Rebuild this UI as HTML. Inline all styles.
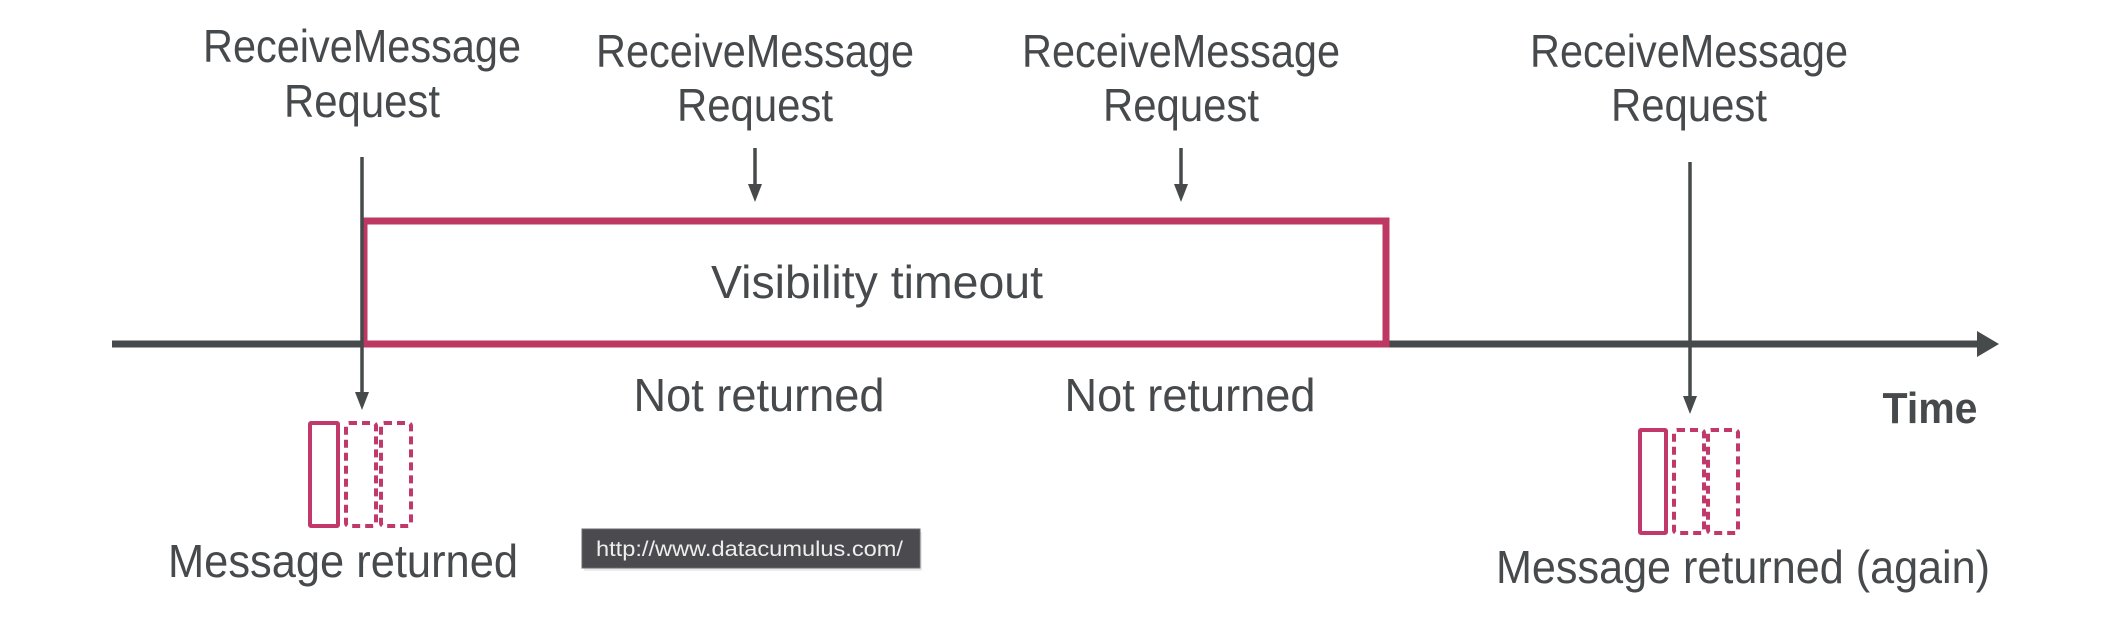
<!DOCTYPE html>
<html><head><meta charset="utf-8"><style>
html,body{margin:0;padding:0;background:#fff;}
svg{display:block;}
text{font-family:"Liberation Sans",sans-serif;fill:#474a4c;}
</style></head><body>
<svg width="2124" height="634" viewBox="0 0 2124 634" xmlns="http://www.w3.org/2000/svg">
<g font-size="46" text-anchor="middle">
<text x="362" y="62" textLength="318" lengthAdjust="spacingAndGlyphs">ReceiveMessage</text>
<text x="362" y="117" textLength="156" lengthAdjust="spacingAndGlyphs">Request</text>
<text x="755" y="67" textLength="318" lengthAdjust="spacingAndGlyphs">ReceiveMessage</text>
<text x="755" y="121" textLength="156" lengthAdjust="spacingAndGlyphs">Request</text>
<text x="1181" y="67" textLength="318" lengthAdjust="spacingAndGlyphs">ReceiveMessage</text>
<text x="1181" y="121" textLength="156" lengthAdjust="spacingAndGlyphs">Request</text>
<text x="1689" y="67" textLength="318" lengthAdjust="spacingAndGlyphs">ReceiveMessage</text>
<text x="1689" y="121" textLength="156" lengthAdjust="spacingAndGlyphs">Request</text>
<text x="877" y="298" textLength="332" lengthAdjust="spacingAndGlyphs">Visibility timeout</text>
<text x="759" y="411" textLength="251" lengthAdjust="spacingAndGlyphs">Not returned</text>
<text x="1190" y="411" textLength="251" lengthAdjust="spacingAndGlyphs">Not returned</text>
<text x="343" y="577" textLength="350" lengthAdjust="spacingAndGlyphs">Message returned</text>
<text x="1743" y="583" textLength="494" lengthAdjust="spacingAndGlyphs">Message returned (again)</text>
<text x="1930" y="423" font-weight="bold" font-size="44" textLength="95" lengthAdjust="spacingAndGlyphs">Time</text>
</g>
<line x1="112" y1="344" x2="1980" y2="344" stroke="#464a4b" stroke-width="7"/>
<polygon points="1977,331 1999,344 1977,357" fill="#464a4b"/>
<rect x="364" y="221" width="1022" height="123" fill="none" stroke="#bd3862" stroke-width="7"/>
<g stroke="#464a4b" stroke-width="3.5" fill="#464a4b">
<line x1="362" y1="157" x2="362" y2="394"/>
<polygon points="355,392 369,392 362,410" stroke="none"/>
<line x1="755" y1="148" x2="755" y2="186"/>
<polygon points="748,184 762,184 755,202" stroke="none"/>
<line x1="1181" y1="148" x2="1181" y2="186"/>
<polygon points="1174,184 1188,184 1181,202" stroke="none"/>
<line x1="1690" y1="162" x2="1690" y2="398"/>
<polygon points="1683,396 1697,396 1690,414" stroke="none"/>
</g>
<g fill="none" stroke="#c0396a" stroke-width="4">
<rect x="310" y="423" width="28" height="103" rx="1"/>
<rect x="346" y="423" width="30" height="103" rx="3" stroke-dasharray="8,5"/>
<rect x="381" y="423" width="30" height="103" rx="3" stroke-dasharray="8,5"/>
<rect x="1640" y="430" width="26" height="103" rx="1"/>
<rect x="1674" y="430" width="30" height="103" rx="3" stroke-dasharray="8,5"/>
<rect x="1708" y="430" width="30" height="103" rx="3" stroke-dasharray="8,5"/>
</g>
<rect x="584" y="532" width="338" height="39" fill="#000" opacity="0.08"/>
<rect x="582" y="529" width="338" height="39" fill="#4b4a4f" stroke="#6a6a6e" stroke-width="1"/>
<text x="596" y="556" font-size="21" style="fill:#eeeeee" textLength="307" lengthAdjust="spacingAndGlyphs">http://www.datacumulus.com/</text>
</svg>
</body></html>
